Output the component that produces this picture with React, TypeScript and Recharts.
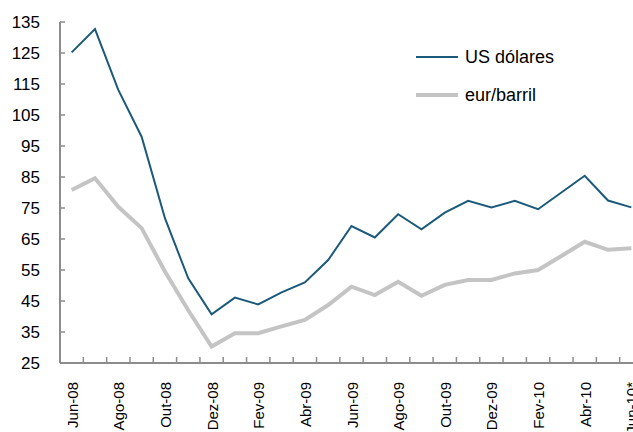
import { LineChart, Line, XAxis, YAxis } from 'recharts';

// months, Jun-08 .. Jun-10*
const months = [
  'Jun-08', 'Jul-08', 'Ago-08', 'Set-08', 'Out-08', 'Nov-08', 'Dez-08',
  'Jan-09', 'Fev-09', 'Mar-09', 'Abr-09', 'Mai-09', 'Jun-09', 'Jul-09',
  'Ago-09', 'Set-09', 'Out-09', 'Nov-09', 'Dez-09', 'Jan-10', 'Fev-10',
  'Mar-10', 'Abr-10', 'Mai-10', 'Jun-10*',
];

const usd = [
  125.2, 132.7, 113.1, 98.0, 71.7, 52.3, 40.7, 46.1, 43.9, 47.8, 51.0, 58.2, 69.2,
  65.5, 73.0, 68.1, 73.5, 77.3, 75.2, 77.3, 74.6, 80.0, 85.4, 77.4, 75.2,
];

const eur = [
  80.8, 84.6, 75.4, 68.5, 54.5, 42.0, 30.3, 34.6, 34.6, 36.8, 38.9, 43.7, 49.6,
  46.9, 51.2, 46.7, 50.2, 51.8, 51.8, 53.9, 55.0, 59.5, 64.1, 61.5, 62.0,
];

const yTicks = [25, 35, 45, 55, 65, 75, 85, 95, 105, 115, 125, 135];

const series = [
  { key: 'usd', name: 'US dólares' },
  { key: 'eur', name: 'eur/barril' },
];

const data = months.map((month, i) => ({ i, month, usd: usd[i], eur: eur[i] }));

// tick lines sit on category boundaries, labels on every second month
const xTicks: number[] = [];
for (let k = 0; k <= months.length; k++) xTicks.push(k - 0.5);
for (let k = 0; k < months.length; k += 2) xTicks.push(k);
xTicks.sort((a, b) => a - b);

const BLUE = '#1b5a7a';
const GREY = '#c4c4c4';
const AXIS = '#8c8c8c';
const FONT = '"Liberation Sans", Arial, sans-serif';

const styleOf: Record<string, { color: string; w: number }> = {
  usd: { color: BLUE, w: 2 },
  eur: { color: GREY, w: 4 },
};

const XTick = (props: any) => {
  const { x, y, payload } = props;
  const v = payload.value;
  if (v % 1 !== 0) {
    return <line x1={x} x2={x} y1={y} y2={y - 6} stroke={AXIS} strokeWidth={1.5} />;
  }
  const tx = x + 6;
  const ty = y + 19;
  return (
    <text
      x={tx}
      y={ty}
      transform={`rotate(-90, ${tx}, ${ty})`}
      textAnchor="end"
      fontSize={15}
      fontFamily={FONT}
      fill="#000"
    >
      {months[v]}
    </text>
  );
};

const LegendBox = () => (
  <div style={{ position: 'absolute', left: 408, top: 45, fontFamily: FONT, fontSize: 18, color: '#000' }}>
    {series.map((s, idx) => (
      <div key={s.key} style={{ display: 'flex', alignItems: 'center', height: 24, marginBottom: idx === 0 ? 14 : 0 }}>
        <svg width={50} height={10} style={{ marginRight: 7 }}>
          <line x1={8} x2={50} y1={5} y2={5} stroke={styleOf[s.key].color} strokeWidth={styleOf[s.key].w} />
        </svg>
        <span>{s.name}</span>
      </div>
    ))}
  </div>
);

export default function App() {
  return (
    <div style={{ position: 'absolute', left: 0, top: 0, width: 633, height: 432, overflow: 'hidden', background: '#fff' }}>
      <LineChart width={643} height={432} data={data} margin={{ top: 22, right: 0, bottom: 0, left: 0 }}>
        <XAxis
          type="number"
          dataKey="i"
          domain={[-0.5, months.length - 0.5]}
          ticks={xTicks}
          interval={0}
          tickLine={false}
          tickSize={0}
          tickMargin={0}
          tick={<XTick />}
          height={69}
          axisLine={{ stroke: AXIS, strokeWidth: 2 }}
        />
        <YAxis
          domain={[25, 135]}
          ticks={yTicks}
          interval={0}
          width={60}
          tickSize={-5}
          tickMargin={25}
          tick={{ fontSize: 17, fontFamily: FONT, fill: '#000' }}
          tickLine={{ stroke: AXIS, strokeWidth: 1.5 }}
          axisLine={{ stroke: AXIS, strokeWidth: 2 }}
        />
        <Line dataKey="eur" name="eur/barril" stroke={GREY} strokeWidth={4} dot={false} isAnimationActive={false} />
        <Line dataKey="usd" name="US dólares" stroke={BLUE} strokeWidth={2} dot={false} isAnimationActive={false} />
      </LineChart>
      <LegendBox />
    </div>
  );
}
